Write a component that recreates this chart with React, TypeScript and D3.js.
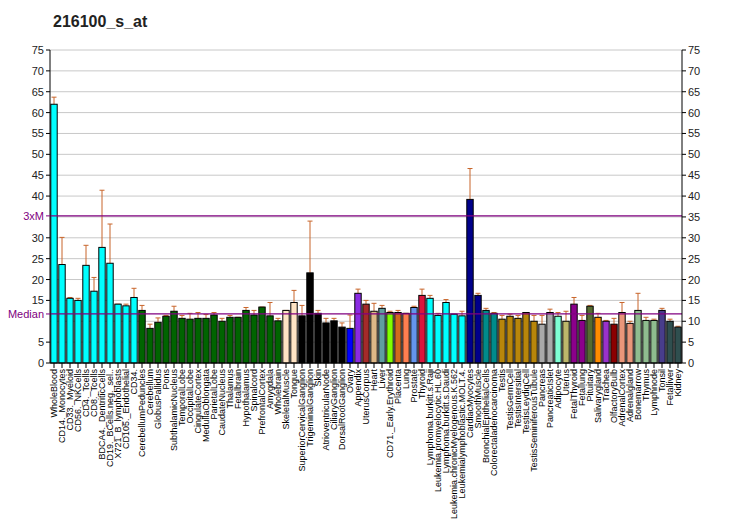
import React from "react";
import * as d3 from "d3";

const title = "216100_s_at";

const categories = [
  "WholeBlood","CD14._Monocytes","CD33._Myeloid","CD56._NKCells","CD4._Tcells","CD8._Tcells",
  "BDCA4._DentriticCells","CD19._BCells.neg._sel..","X721_B_lymphoblasts","CD105._Endothelial","CD34.",
  "CerebellumPeduncles","Cerebellum","GlobusPallidus","Pons","SubthalamicNucleus","TemporalLobe",
  "OccipitalLobe","CingulateCortex","MedullaOblongata","ParietalLobe","CaudateNucleus","Thalamus",
  "Fetalbrain","Hypothalamus","Spinalcord","PrefrontalCortex","Amygdala","Wholebrain",
  "SkeletalMuscle","Tongue","SuperiorCervicalGanglion","TrigeminalGanglion","Skin",
  "AtrioventricularNode","CiliaryGanglion","DorsalRootGanglion","Ovary","Appendix","UterusCorpus",
  "Heart","Liver","CD71._Early.Erythroid","Placenta","Lung","Prostate","Thyroid",
  "Lymphoma.burkitt.s.Raji","Leukemia.promyelocytic.HL.60","Lymphoma.burkitt.s.Daudi",
  "Leukemia.chronicMyelogenous.K.562","Leukemialymphoblastic.MOLT.4.","CardiacMyocytes",
  "SmoothMuscle","BronchialEpithelialCells","Colorectaladenocarcinoma","Testis","TestisGermCell",
  "TestisIntersitial","TestisLeydigCell","TestisSeminiferousTubule","Pancreas","PancreaticIslet",
  "Adipocyte","Uterus","FetalThyroid","Fetallung","Pituitary","Salivarygland","Trachea",
  "OlfactoryBulb","AdrenalCortex","Adrenalgland","Bonemarrow","Thymus","Lymphnode","Tonsil",
  "Fetalliver","Kidney"
];

const values = [
  62.0,23.6,15.5,15.0,23.4,17.2,27.7,23.9,14.1,13.7,15.7,
  12.6,8.3,9.75,11.2,12.4,10.7,10.5,10.7,10.7,11.5,10.0,10.95,10.95,12.6,11.5,13.4,11.3,10.1,
  12.6,14.5,11.3,21.6,11.9,9.6,10.1,8.6,8.3,16.7,14.1,12.4,13.1,12.1,12.1,11.9,13.3,16.2,
  15.5,11.4,14.5,11.7,11.3,39.2,16.2,12.6,11.9,10.5,11.2,10.7,12.1,10.0,9.3,12.1,11.2,10.0,
  14.1,10.2,13.6,10.95,10.0,9.3,12.1,9.5,12.6,10.2,10.2,12.6,10.0,8.6
];

const errorTops = [
  63.7,30.1,15.7,15.5,28.2,20.5,41.4,33.3,14.1,14.1,17.9,
  13.8,9.3,10.8,11.4,13.6,11.4,11.9,12.1,11.6,12.1,10.7,11.4,10.95,13.3,12.6,13.4,14.5,10.7,
  12.6,17.4,13.8,34.0,12.6,10.7,10.7,9.6,11.5,17.7,15.0,14.3,13.8,12.4,12.6,11.9,13.6,17.7,
  16.2,11.9,15.2,11.7,12.4,46.6,16.7,13.1,12.1,11.4,11.7,11.4,12.1,11.4,11.4,12.9,12.1,12.4,
  15.7,11.4,13.8,11.9,10.2,10.7,14.5,10.0,16.7,10.95,10.5,13.1,10.5,8.8
];

const colors = [
  ...Array(11).fill("#00FFFF"),
  ...Array(18).fill("#006400"),
  "#FFE4C4","#FFE4C4",
  ...Array(6).fill("#000000"),
  "#0000FF","#8A2BE2","#A52A2A","#DEB887","#5F9EA0","#7FFF00","#D2691E","#FF7F50","#6495ED","#DC143C",
  ...Array(5).fill("#00FFFF"),
  "#00008B","#00008B","#008B8B","#008B8B",
  ...Array(5).fill("#B8860B"),
  "#A9A9A9","#A9A9A9","#7FFFD4","#BDB76B","#8B008B","#8B008B","#556B2F","#FF8C00","#9932CC","#8B0000",
  "#E9967A","#E9967A","#8FBC8F","#8FBC8F","#8FBC8F","#483D8B","#2F4F4F","#2F4F4F"
];

const yTicks = [0,5,10,15,20,25,30,35,40,45,50,55,60,65,70,75];
const median = 11.75;

export default function App() {
  const W = 732, H = 530;
  const left = 50, right = 682, top = 50, bottom = 363;
  const x = d3.scaleBand<string>().domain(categories).range([left, right]).paddingInner(0.2).paddingOuter(0.1);
  const y = d3.scaleLinear().domain([0, 75]).range([bottom, top]);
  const font = "Liberation Sans, Arial, sans-serif";
  const errColor = "#C8652A";
  const purple = "#800080";
  return (
    <svg width={W} height={H} style={{ position: "absolute", left: 0, top: 0, background: "#fff" }} fontFamily={font}>
      <rect x={0} y={0} width={W} height={H} fill="#fff" />
      <text x={53} y={27} fontSize={16} fontWeight="bold" fill="#222">{title}</text>
      {yTicks.map(t => (
        <line key={"g" + t} x1={left} x2={right} y1={y(t)} y2={y(t)} stroke="#c8c8c8" strokeWidth={1} />
      ))}
      {categories.map((c, i) => {
        const bx = x(c)!;
        const bw = x.bandwidth();
        const cx = bx + bw / 2;
        return (
          <g key={c}>
            <line x1={cx} x2={cx} y1={y(values[i])} y2={y(errorTops[i])} stroke={errColor} strokeWidth={1} />
            <line x1={cx - 2.5} x2={cx + 2.5} y1={y(errorTops[i])} y2={y(errorTops[i])} stroke={errColor} strokeWidth={1} />
            <rect x={bx} y={y(values[i])} width={bw} height={bottom - y(values[i])} fill={colors[i]} stroke="#000" strokeWidth={1} />
            <line x1={cx} x2={cx} y1={bottom} y2={bottom + 5} stroke="#000" />
            <text transform={`translate(${cx + 3.2},${bottom + 6}) rotate(-90)`} textAnchor="end" fontSize={9} fill="#000">{c}</text>
          </g>
        );
      })}
      <line x1={left} x2={right} y1={y(median)} y2={y(median)} stroke={purple} strokeWidth={1.2} />
      <line x1={left} x2={right} y1={y(3 * median)} y2={y(3 * median)} stroke={purple} strokeWidth={1.2} />
      <line x1={left} x2={left} y1={top} y2={bottom} stroke="#000" />
      <line x1={right} x2={right} y1={top} y2={bottom} stroke="#000" />
      <line x1={left} x2={right} y1={bottom} y2={bottom} stroke="#000" />
      {yTicks.map(t => (
        <g key={"t" + t}>
          <line x1={right} x2={right + 4} y1={y(t)} y2={y(t)} stroke="#000" />
          <text x={right + 6} y={y(t) + 4} fontSize={11} fill="#222">{t}</text>
          {t !== 10 && t !== 35 && (
            <>
              <line x1={left - 4} x2={left} y1={y(t)} y2={y(t)} stroke="#000" />
              <text x={left - 6} y={y(t) + 4} fontSize={11} fill="#222" textAnchor="end">{t}</text>
            </>
          )}
        </g>
      ))}
      <line x1={left - 4} x2={left} y1={y(median)} y2={y(median)} stroke={purple} />
      <line x1={left - 4} x2={left} y1={y(3 * median)} y2={y(3 * median)} stroke={purple} />
      <text x={left - 6} y={y(median) + 4} fontSize={11} fill={purple} textAnchor="end">Median</text>
      <text x={left - 6} y={y(3 * median) + 4} fontSize={11} fill={purple} textAnchor="end">3xM</text>
    </svg>
  );
}
